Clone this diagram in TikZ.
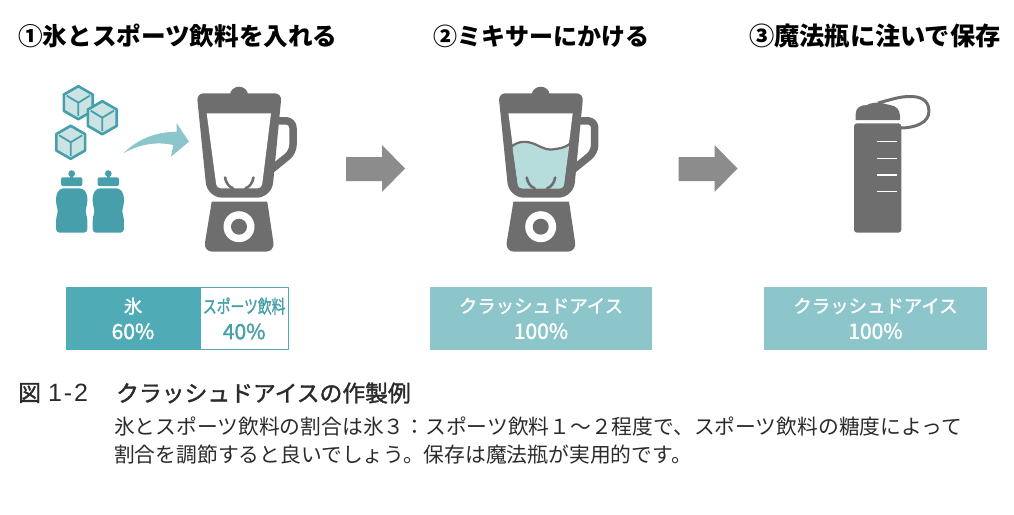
\documentclass[tikz,border=0pt]{standalone}
\usepackage{fontspec}
\setmainfont{Noto Sans CJK JP}
\newfontfamily\jpmedium[FakeBold=1.6]{Noto Sans CJK JP}
\newfontfamily\figlabel{Liberation Sans}
\definecolor{graymain}{HTML}{6E6E6E}
\definecolor{grayarrow}{HTML}{8C8C8C}
\definecolor{tealdark}{HTML}{469FAB}
\definecolor{tealbar}{HTML}{4FABB5}
\definecolor{teallight}{HTML}{8CC6CA}
\definecolor{iceface}{HTML}{CBE3E3}
\definecolor{waterface}{HTML}{B7DCDC}
\definecolor{inktext}{HTML}{2B2B2B}
\tikzset{
  titletext/.style={anchor=west,inner sep=0pt,text=black,font=\fontsize{#1}{28}\selectfont\bfseries},
  barbox/.style={minimum height=63pt,inner sep=0pt,align=center,text=white,font=\fontsize{18.4}{26}\selectfont\jpmedium},
  captext/.style={anchor=west,inner sep=0pt,text=inktext,font=\fontsize{20.77}{24}\selectfont},
  headtext/.style={anchor=west,inner sep=0pt,text=inktext,font=\fontsize{22.8}{26}\selectfont\jpmedium},
}
\newcommand{\percent}[1]{{\fontsize{21}{26}\selectfont #1\%}}
\newcommand{\bigarrow}[1]{%
  \fill [grayarrow,shift={(#1,0)}] (0,157) -- (36,157) -- (36,145) -- (59,168.5) -- (36,192) -- (36,181) -- (0,181) -- cycle;}
\newcommand{\blender}[2]{%
  \begin{scope}[shift={(#1,0)}]
  \draw [graymain,line width=7.5pt,rounded corners=7pt] (36,120.8) -- (54,120.8) -- (54,152) -- (33,169);
  \fill [graymain] (0,95) ellipse (9pt and 8.3pt);
  \fill [graymain,rounded corners=7pt] (0,93.3) -- (42.7,93.3) [rounded corners=15pt] -- (32.7,197.7) -- (-31.7,197.7) [rounded corners=7pt] -- (-42.3,93.3) -- cycle;
  \fill [white,rounded corners=3pt] (-32.3,113.3) [sharp corners] -- (32,113.3) [rounded corners=4pt] -- (22.7,188.3) -- (-22.3,188.3) [sharp corners] -- cycle;
  #2
  \draw [graymain,line width=2.6pt,line cap=round] (-14,177.5) .. controls (-13,183) and (-10,187) .. (-6,188.3);
  \draw [graymain,line width=2.6pt,line cap=round] (14.5,177.5) .. controls (13.5,183) and (10.5,187) .. (6.5,188.3);
  \fill [graymain] (-27.3,201.7) -- (28.3,201.7) [rounded corners=9pt] -- (35.8,251.7) -- (-35.5,251.7) [sharp corners] -- cycle;
  \fill [white] (0,226.7) circle (15.5pt);
  \fill [graymain] (0,226.7) circle (8pt);
  \end{scope}}
\newcommand{\icecube}[2]{%
  \begin{scope}[shift={(#1,#2)}]
  \draw [tealdark,fill=iceface,line width=2.6pt,line join=round] (0,-16.5) -- (14.4,-8.2) -- (14.4,8.2) -- (0,16.5) -- (-14.4,8.2) -- (-14.4,-8.2) -- cycle;
  \draw [tealdark,line width=1.8pt] (-11.5,-7) -- (0,0) -- (11.5,-7) (0,0) -- (0,13.5);
  \end{scope}}
\newcommand{\sportbottle}[1]{%
  \begin{scope}[shift={(#1,0)}]
  \fill [tealdark] (0,173.6) circle (3.4pt);
  \fill [tealdark] (-1.5,174) rectangle (1.5,179);
  \fill [tealdark,rounded corners=2pt] (-10.7,186) -- (-10.7,177.3) -- (10.7,177.3) -- (10.7,186) -- cycle;
  \fill [tealdark,rounded corners=3.5pt] (-11.5,188.3) -- (11.5,188.3) -- (15.6,194.5) -- (15.6,205) -- (13.2,211) -- (15.6,217) -- (15.6,232.7) -- (-15.6,232.7) -- (-15.6,217) -- (-13.2,211) -- (-15.6,205) -- (-15.6,194.5) -- cycle;
  \end{scope}}
\begin{document}
\begin{tikzpicture}[x=1pt,y=-1pt,line join=bevel]
%%
\useasboundingbox (0,0) rectangle (1014,514);
\node (node_title_1) at (18,36) [titletext=24.6] {①氷とスポーツ飲料を入れる};
\node (node_title_2) at (433,36) [titletext=24] {②ミキサーにかける};
\node (node_title_3) at (749,36) [titletext=25.2] {③魔法瓶に注いで保存};
%
\icecube{78.3}{102.7}
\icecube{102.3}{117.7}
\icecube{70.7}{142.3}
\sportbottle{71.7}
\sportbottle{108.3}
\fill [teallight] (123.3,153.3) .. controls (138,139) and (155,132) .. (176.7,131.7) -- (176.7,123.3) -- (189,141.7) -- (171,156.7) -- (173.3,145) .. controls (155,141) and (138,145) .. (123.3,153.3) -- cycle;
\blender{239}{}
\blender{540.7}{%
  \fill [waterface,rounded corners=3pt] (-28.4,146) .. controls (-22,141) and (-14,140.5) .. (-5,144.5) .. controls (2,148) and (8,151) .. (15,149) .. controls (22,148) and (26,146.5) .. (28.7,144) -- (22.7,188.3) -- (-22.3,188.3) -- cycle;
  \draw [graymain,line width=2.2pt] (-28.4,146) .. controls (-22,141) and (-14,140.5) .. (-5,144.5) .. controls (2,148) and (8,151) .. (15,149) .. controls (22,148) and (26,146.5) .. (28.7,144);}
%
\bigarrow{346}
\bigarrow{678.5}
%
\fill [graymain] (855.7,120) -- (855.7,114) .. controls (855.7,108) and (860,105) .. (867,105) .. controls (870,103) and (875,102.5) .. (880,102.7) -- (890,105) .. controls (896,105.5) and (900,110) .. (900,116) -- (900,120) -- cycle;
\draw [graymain,line width=3pt] (878,103) .. controls (890,100) and (900,96) .. (912,96.5) .. controls (925,97) and (929,104) .. (929,111) .. controls (929,123) and (915,128) .. (900,128);
\fill [graymain,rounded corners=3pt] (854,123.3) rectangle (901.3,232.7);
\foreach \ticky in {141.7,158.3,175,191.7}
  \draw [white,line width=1.4pt] (876.7,\ticky) -- (896.7,\ticky);
%
\node (node_ice) at (133,318.5) [barbox,fill=tealbar,minimum width=134pt] {氷\\\percent{60}};
\node (node_drink) at (244.2,318.5) [barbox,draw=tealbar,line width=.8pt,fill=white,text=tealdark,minimum width=88pt,minimum height=62.5pt] {\scalebox{.75}[1]{スポーツ飲料}\\\percent{40}};
\node (node_crushed_1) at (541,318.5) [barbox,fill=teallight,minimum width=222.5pt] {クラッシュドアイス\\\percent{100}};
\node (node_crushed_2) at (875.5,318.5) [barbox,fill=teallight,minimum width=222.5pt] {クラッシュドアイス\\\percent{100}};
%
\node (node_fig) at (18,393) [headtext] {図\hspace{7pt}{\figlabel\fontsize{25}{26}\selectfont 1\hspace{2pt}-\hspace{2pt}2}};
\node (node_figtitle) at (116,393) [headtext] {クラッシュドアイスの作製例};
\node (node_body_1) at (114,427) [captext] {氷とスポーツ飲料の割合は氷３：スポーツ飲料１～２程度で、スポーツ飲料の糖度によって};
\node (node_body_2) at (114,455) [captext] {割合を調節すると良いでしょう。保存は魔法瓶が実用的です。};
%
\end{tikzpicture}
\end{document}
